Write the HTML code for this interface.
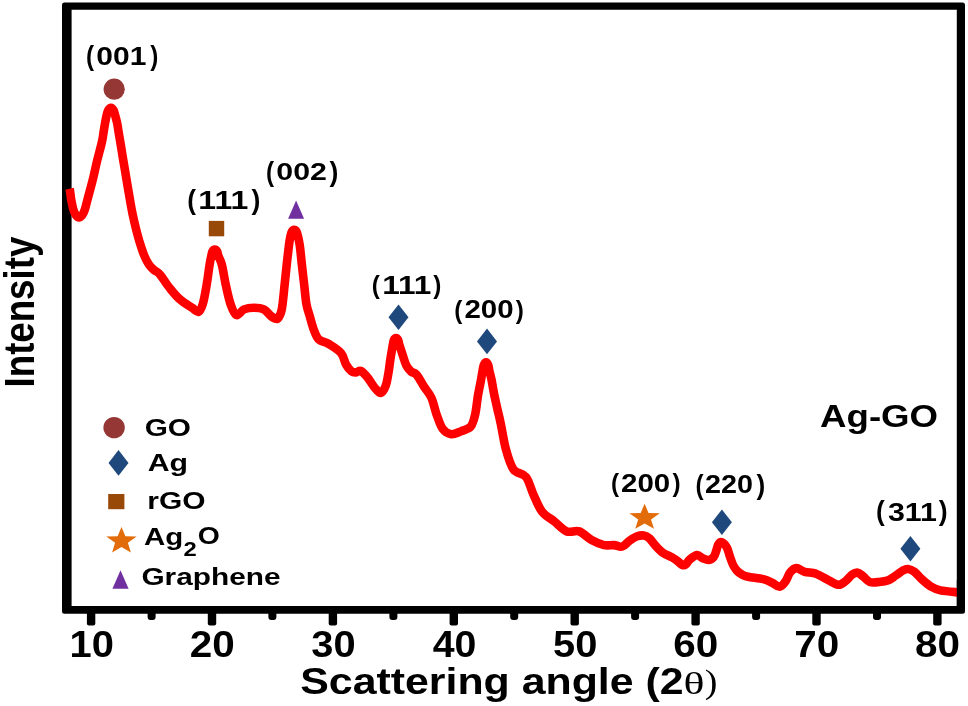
<!DOCTYPE html>
<html><head><meta charset="utf-8"><title>XRD Ag-GO</title>
<style>
html,body{margin:0;padding:0;background:#fff;}
body{width:968px;height:706px;overflow:hidden;}
svg{display:block;}
svg text{font-family:"Liberation Sans",Arial,Helvetica,sans-serif;font-weight:bold;fill:#000;}
</style></head><body>
<svg width="968" height="706" viewBox="0 0 968 706">
<defs><filter id="soft" color-interpolation-filters="sRGB" x="0" y="0" width="968" height="706" filterUnits="userSpaceOnUse"><feGaussianBlur stdDeviation="0.6"/></filter></defs>
<g filter="url(#soft)">
<rect x="0" y="0" width="968" height="706" fill="#fff"/>
<path fill="#000" fill-rule="evenodd" d="M64.5,2.6 H962.5 Q965,2.6 965,5.1 V611.3 Q965,613.8 962.5,613.8 H64.5 Q62,613.8 62,611.3 V5.1 Q62,2.6 64.5,2.6 Z M71.6,9.8 V606 H956.8 V9.8 Z"/>
<path d="M69.6,188.8 C69.7,189.2 69.8,189.3 70.1,191.3 C70.4,193.3 70.8,197.6 71.4,200.7 C72.0,203.8 72.7,207.6 73.5,210.0 C74.3,212.4 75.1,214.1 76.0,215.3 C76.9,216.6 78.0,217.5 79.0,217.5 C80.0,217.5 81.0,216.8 82.0,215.5 C83.0,214.2 83.8,212.5 84.7,210.0 C85.6,207.5 86.4,203.8 87.2,200.7 C88.0,197.6 88.7,195.1 89.7,191.3 C90.7,187.5 91.9,183.2 93.2,178.0 C94.5,172.8 95.8,166.0 97.3,160.0 C98.8,154.0 100.9,146.7 101.9,142.0 C103.0,137.3 103.1,135.2 103.6,132.0 C104.1,128.8 104.6,125.7 105.1,122.9 C105.6,120.2 106.1,117.6 106.6,115.5 C107.1,113.4 107.5,111.6 108.2,110.3 C108.9,109.0 110.1,107.7 111.0,107.7 C111.9,107.7 112.9,109.0 113.6,110.3 C114.3,111.6 114.6,113.4 115.2,115.5 C115.8,117.6 116.5,120.2 117.1,122.9 C117.7,125.7 118.1,128.8 118.6,132.0 C119.1,135.2 119.7,138.2 120.3,142.0 C120.9,145.8 121.7,150.7 122.4,155.0 C123.1,159.3 123.7,162.8 124.6,168.0 C125.5,173.2 126.7,180.7 127.6,186.0 C128.5,191.3 129.2,195.4 130.0,200.0 C130.8,204.6 131.5,208.9 132.5,213.6 C133.5,218.3 134.6,223.3 135.8,228.0 C137.0,232.7 138.2,237.5 139.6,242.0 C141.0,246.5 142.5,251.3 144.0,255.0 C145.5,258.7 147.1,261.8 148.8,264.3 C150.5,266.8 152.2,268.4 154.0,270.0 C155.8,271.6 157.1,271.2 159.7,274.2 C162.3,277.2 166.3,283.8 169.6,287.9 C172.9,292.0 175.8,295.7 179.5,299.0 C183.2,302.3 188.7,305.6 191.9,307.7 C195.1,309.8 196.7,312.4 198.5,311.8 C200.3,311.2 201.4,308.6 202.8,304.0 C204.2,299.4 205.7,290.5 206.8,284.0 C207.9,277.5 208.8,269.6 209.6,264.9 C210.3,260.2 210.8,258.3 211.3,256.0 C211.8,253.7 211.9,252.4 212.5,251.3 C213.1,250.2 214.0,249.5 214.8,249.5 C215.6,249.5 216.5,250.2 217.1,251.3 C217.7,252.4 217.6,253.7 218.4,256.0 C219.2,258.3 220.7,260.2 221.9,264.9 C223.1,269.6 224.2,277.5 225.6,284.0 C227.0,290.5 228.7,298.8 230.5,304.0 C232.3,309.2 234.2,314.2 236.5,315.1 C238.8,316.0 241.1,310.6 244.0,309.4 C246.9,308.2 250.6,307.7 253.9,307.7 C257.2,307.7 260.9,307.9 263.8,309.4 C266.7,310.8 269.0,314.8 271.3,316.4 C273.6,318.0 275.8,319.5 277.4,318.9 C279.0,318.2 280.1,315.0 281.0,312.5 C281.9,310.0 282.0,308.8 282.6,304.0 C283.2,299.2 284.0,290.7 284.7,284.0 C285.4,277.3 286.1,270.5 286.8,264.0 C287.5,257.5 288.4,249.6 289.0,244.9 C289.6,240.2 290.0,238.2 290.5,236.0 C291.0,233.8 291.2,232.6 291.8,231.6 C292.4,230.6 293.4,229.9 294.2,229.9 C295.0,229.9 296.0,230.6 296.6,231.6 C297.2,232.6 297.4,233.8 297.9,236.0 C298.4,238.2 299.0,240.2 299.7,244.9 C300.4,249.6 301.1,257.5 301.8,264.0 C302.5,270.5 303.3,277.3 304.1,284.0 C304.9,290.7 305.5,298.7 306.4,304.0 C307.3,309.3 308.5,311.8 309.7,316.0 C310.9,320.2 312.1,325.3 313.6,329.2 C315.1,333.1 316.3,336.9 318.8,339.4 C321.3,341.9 325.1,341.7 328.8,344.0 C332.5,346.3 338.1,349.6 341.0,353.0 C343.9,356.4 344.2,361.4 346.0,364.5 C347.8,367.6 349.8,370.0 351.5,371.3 C353.2,372.6 354.4,372.4 356.0,372.4 C357.6,372.3 359.0,370.1 361.0,371.0 C363.0,371.9 365.6,375.1 367.8,377.8 C370.1,380.6 372.3,385.0 374.5,387.5 C376.7,390.0 378.9,393.3 380.8,393.0 C382.7,392.7 384.5,389.0 385.8,385.5 C387.1,382.0 387.9,375.9 388.6,372.0 C389.3,368.1 389.5,365.2 390.0,362.0 C390.5,358.8 390.9,355.7 391.4,352.9 C391.9,350.1 392.4,347.1 392.8,345.0 C393.2,342.9 393.4,341.2 393.9,340.0 C394.4,338.8 395.3,338.0 396.0,338.0 C396.7,338.0 397.5,338.8 398.1,340.0 C398.7,341.2 398.8,342.9 399.4,345.0 C400.0,347.1 400.9,349.5 402.0,352.9 C403.1,356.3 404.8,362.3 406.3,365.4 C407.8,368.5 409.3,369.9 411.0,371.5 C412.7,373.1 414.5,372.3 416.7,374.8 C418.9,377.3 421.6,382.8 424.0,386.6 C426.4,390.4 429.3,393.2 431.4,397.8 C433.5,402.4 434.5,408.7 436.4,413.9 C438.3,419.1 440.1,425.4 442.6,428.8 C445.1,432.2 448.1,433.8 451.2,434.2 C454.3,434.6 458.0,432.4 461.2,431.2 C464.4,430.0 468.4,428.8 470.5,426.8 C472.6,424.8 473.1,421.8 474.0,419.0 C474.9,416.2 475.4,413.8 476.0,410.0 C476.6,406.2 477.3,399.7 477.9,396.0 C478.5,392.3 478.9,390.7 479.4,388.0 C479.9,385.3 480.5,382.8 481.0,380.0 C481.5,377.2 482.0,373.5 482.5,371.0 C483.0,368.5 483.2,366.4 483.8,365.0 C484.4,363.6 485.3,362.4 486.0,362.4 C486.7,362.4 487.6,363.6 488.2,365.0 C488.8,366.4 488.8,368.5 489.4,371.0 C490.0,373.5 491.0,377.2 491.6,380.0 C492.2,382.8 492.5,385.3 493.0,388.0 C493.5,390.7 493.7,392.3 494.5,396.0 C495.3,399.7 496.6,405.4 497.6,410.0 C498.7,414.6 499.4,417.2 500.8,423.8 C502.2,430.4 503.9,442.0 506.0,449.6 C508.1,457.2 510.2,464.8 513.5,469.4 C516.8,473.9 522.6,472.8 525.9,476.9 C529.2,481.0 530.6,488.4 533.3,494.2 C536.0,500.0 538.5,507.1 542.0,511.6 C545.5,516.1 550.3,518.2 554.4,521.5 C558.5,524.8 562.7,529.8 566.8,531.4 C570.9,533.0 575.1,529.9 579.2,531.4 C583.3,532.9 587.5,537.8 591.6,540.1 C595.7,542.4 600.3,544.3 604.0,545.1 C607.7,545.9 610.9,544.9 613.9,545.1 C616.9,545.3 619.6,547.3 622.3,546.5 C624.9,545.7 627.3,542.2 629.8,540.5 C632.3,538.8 634.9,537.1 637.2,536.3 C639.5,535.5 641.7,535.2 643.7,535.5 C645.7,535.8 647.3,536.5 649.3,538.2 C651.3,540.0 653.5,543.5 655.8,546.0 C658.1,548.5 660.4,551.1 663.2,553.0 C666.0,554.9 669.9,556.1 672.5,557.6 C675.1,559.1 677.0,560.8 678.6,562.0 C680.2,563.2 680.8,564.5 682.0,564.9 C683.2,565.3 684.4,565.4 685.6,564.5 C686.9,563.6 687.6,561.4 689.5,559.8 C691.4,558.2 694.8,555.4 697.0,555.1 C699.2,554.8 700.6,557.4 702.6,558.2 C704.6,559.0 706.9,560.2 708.8,560.0 C710.7,559.8 712.5,558.4 713.8,556.9 C715.0,555.4 715.6,552.8 716.3,550.7 C717.0,548.6 717.3,545.9 718.2,544.5 C719.1,543.1 720.5,541.8 721.9,542.3 C723.3,542.8 725.5,545.2 726.9,547.6 C728.2,550.0 729.0,554.0 730.0,556.9 C731.0,559.8 732.0,562.7 733.1,565.0 C734.2,567.3 735.5,569.0 736.9,570.6 C738.3,572.2 739.9,573.4 741.8,574.4 C743.6,575.4 744.4,576.0 748.0,576.8 C751.6,577.6 759.3,578.2 763.3,579.2 C767.3,580.2 769.5,581.5 772.2,582.8 C774.9,584.0 777.5,587.0 779.7,586.7 C781.9,586.5 783.9,583.7 785.6,581.3 C787.3,578.9 788.3,574.6 790.1,572.4 C791.9,570.2 794.0,568.2 796.4,568.1 C798.8,568.0 801.5,570.9 804.7,571.8 C808.0,572.7 812.2,572.5 815.9,573.7 C819.6,575.0 823.3,577.4 827.0,579.3 C830.7,581.1 835.1,584.5 838.2,584.8 C841.3,585.1 843.3,582.8 845.6,581.1 C847.9,579.4 850.2,576.0 852.2,574.6 C854.2,573.2 855.9,572.4 857.7,572.7 C859.6,573.0 861.3,575.0 863.3,576.5 C865.3,578.0 867.2,581.1 869.8,582.0 C872.4,582.9 876.0,582.3 879.1,582.0 C882.2,581.7 885.6,581.3 888.4,580.2 C891.2,579.1 893.3,577.1 895.8,575.5 C898.3,573.9 901.3,571.4 903.3,570.3 C905.3,569.2 906.0,568.8 907.9,569.0 C909.8,569.2 912.1,570.1 914.4,571.8 C916.7,573.5 919.1,576.8 921.9,579.3 C924.7,581.8 928.1,584.9 931.2,586.7 C934.3,588.6 936.0,589.5 940.5,590.4 C945.0,591.3 955.1,592.1 958.0,592.4" fill="none" stroke="#FF0000" stroke-width="8.6" stroke-linejoin="round" stroke-linecap="butt"/>
<rect x="956.8" y="580" width="8.2" height="26" fill="#000"/>
<path d="M86.9,612 h8.4 v11.5 q0,2 -2,2 h-4.4 q-2,0 -2,-2 z" fill="#000"/>
<path d="M147.6,612 h8 v5 q0,3 -3,3 h-2 q-3,0 -3,-3 z" fill="#000"/>
<path d="M207.8,612 h8.4 v11.5 q0,2 -2,2 h-4.4 q-2,0 -2,-2 z" fill="#000"/>
<path d="M268.4,612 h8 v5 q0,3 -3,3 h-2 q-3,0 -3,-3 z" fill="#000"/>
<path d="M328.7,612 h8.4 v11.5 q0,2 -2,2 h-4.4 q-2,0 -2,-2 z" fill="#000"/>
<path d="M389.4,612 h8 v5 q0,3 -3,3 h-2 q-3,0 -3,-3 z" fill="#000"/>
<path d="M449.6,612 h8.4 v11.5 q0,2 -2,2 h-4.4 q-2,0 -2,-2 z" fill="#000"/>
<path d="M510.2,612 h8 v5 q0,3 -3,3 h-2 q-3,0 -3,-3 z" fill="#000"/>
<path d="M570.5,612 h8.4 v11.5 q0,2 -2,2 h-4.4 q-2,0 -2,-2 z" fill="#000"/>
<path d="M631.1,612 h8 v5 q0,3 -3,3 h-2 q-3,0 -3,-3 z" fill="#000"/>
<path d="M691.4,612 h8.4 v11.5 q0,2 -2,2 h-4.4 q-2,0 -2,-2 z" fill="#000"/>
<path d="M752.1,612 h8 v5 q0,3 -3,3 h-2 q-3,0 -3,-3 z" fill="#000"/>
<path d="M812.3,612 h8.4 v11.5 q0,2 -2,2 h-4.4 q-2,0 -2,-2 z" fill="#000"/>
<path d="M873.0,612 h8 v5 q0,3 -3,3 h-2 q-3,0 -3,-3 z" fill="#000"/>
<path d="M933.2,612 h8.4 v11.5 q0,2 -2,2 h-4.4 q-2,0 -2,-2 z" fill="#000"/>
<circle cx="114.2" cy="89.2" r="10.6" fill="#953735"/>
<rect x="208.8" y="220.9" width="15.4" height="15.4" fill="#984807"/>
<polygon points="296.1,200.5 304.1,218.7 288.1,218.7" fill="#7030A0"/>
<polygon points="398.5,304.5 408.5,317.3 398.5,330.1 388.5,317.3" fill="#1F497D"/>
<polygon points="487.0,328.6 497.0,341.4 487.0,354.2 477.0,341.4" fill="#1F497D"/>
<polygon points="644.6,503.7 648.5,512.9 659.8,513.3 651.0,519.4 654.0,528.8 644.6,523.4 635.2,528.8 638.2,519.4 629.4,513.3 640.7,512.9" fill="#E36C0A"/>
<polygon points="721.9,509.5 731.9,522.3 721.9,535.1 711.9,522.3" fill="#1F497D"/>
<polygon points="910.4,535.9 920.4,548.7 910.4,561.5 900.4,548.7" fill="#1F497D"/>
<circle cx="114.1" cy="427.6" r="10.7" fill="#953735"/>
<polygon points="118.5,450.1 128.5,462.9 118.5,475.7 108.5,462.9" fill="#1F497D"/>
<rect x="108.2" y="494" width="16.2" height="15.2" fill="#984807"/>
<polygon points="121.5,526.9 125.4,536.2 136.7,536.6 127.9,542.8 130.9,552.4 121.5,546.9 112.1,552.4 115.1,542.8 106.3,536.6 117.6,536.2" fill="#E36C0A"/>
<polygon points="120.5,570.2 128.6,588.7 112.4,588.7" fill="#7030A0"/>
<text transform="translate(69.55,656.97) scale(0.9982,0.9287)" font-size="40">10</text>
<text transform="translate(189.69,656.97) scale(1.0115,0.9287)" font-size="40">20</text>
<text transform="translate(311.23,656.97) scale(0.9965,0.9287)" font-size="40">30</text>
<text transform="translate(432.75,656.97) scale(0.9820,0.9287)" font-size="40">40</text>
<text transform="translate(553.03,656.97) scale(0.9965,0.9287)" font-size="40">50</text>
<text transform="translate(673.29,656.97) scale(1.0115,0.9287)" font-size="40">60</text>
<text transform="translate(794.19,656.97) scale(1.0115,0.9287)" font-size="40">70</text>
<text transform="translate(915.09,656.97) scale(1.0115,0.9287)" font-size="40">80</text>
<text transform="translate(86.11,65.03) scale(0.6063,0.7108)" font-size="40">(</text>
<text transform="translate(96.31,64.65) scale(0.7505,0.6400)" font-size="40">001</text>
<text transform="translate(150.25,65.03) scale(0.6063,0.7108)" font-size="40">)</text>
<text transform="translate(187.32,209.43) scale(0.6568,0.7108)" font-size="40">(</text>
<text transform="translate(198.34,209.45) scale(0.8023,0.6542)" font-size="40">111</text>
<text transform="translate(251.45,209.43) scale(0.6653,0.7108)" font-size="40">)</text>
<text transform="translate(266.11,180.80) scale(0.6063,0.7030)" font-size="40">(</text>
<text transform="translate(276.30,180.36) scale(0.7582,0.6191)" font-size="40">002</text>
<text transform="translate(329.55,180.80) scale(0.6653,0.7030)" font-size="40">)</text>
<text transform="translate(371.81,294.24) scale(0.6063,0.6636)" font-size="40">(</text>
<text transform="translate(382.17,293.85) scale(0.7904,0.6329)" font-size="40">111</text>
<text transform="translate(433.35,294.24) scale(0.6063,0.6636)" font-size="40">)</text>
<text transform="translate(454.31,318.64) scale(0.6063,0.6636)" font-size="40">(</text>
<text transform="translate(464.43,318.45) scale(0.7375,0.6435)" font-size="40">200</text>
<text transform="translate(515.85,318.64) scale(0.6063,0.6636)" font-size="40">)</text>
<text transform="translate(610.91,491.60) scale(0.6063,0.6452)" font-size="40">(</text>
<text transform="translate(621.03,491.95) scale(0.7375,0.6435)" font-size="40">200</text>
<text transform="translate(672.45,491.60) scale(0.6063,0.6452)" font-size="40">)</text>
<text transform="translate(695.51,493.51) scale(0.6063,0.6793)" font-size="40">(</text>
<text transform="translate(705.05,493.45) scale(0.7187,0.6400)" font-size="40">220</text>
<text transform="translate(756.45,493.51) scale(0.6568,0.6793)" font-size="40">)</text>
<text transform="translate(875.92,520.47) scale(0.6568,0.6951)" font-size="40">(</text>
<text transform="translate(887.88,520.53) scale(0.7598,0.6643)" font-size="40">311</text>
<text transform="translate(938.75,520.47) scale(0.6653,0.6951)" font-size="40">)</text>
<text transform="translate(144.72,436.07) scale(0.7434,0.6017)" font-size="40">GO</text>
<text transform="translate(147.68,470.98) scale(0.7559,0.5912)" font-size="40">Ag</text>
<text transform="translate(147.28,509.48) scale(0.7482,0.5948)" font-size="40">rGO</text>
<text transform="translate(143.89,544.68) scale(0.7360,0.5912)" font-size="40">Ag</text>
<text transform="translate(183.51,555.75) scale(0.5950,0.4978)" font-size="40">2</text>
<text transform="translate(197.86,544.27) scale(0.7096,0.6017)" font-size="40">O</text>
<text transform="translate(141.42,585.05) scale(0.7454,0.6059)" font-size="40">Graphene</text>
<text transform="translate(820.08,426.53) scale(0.9156,0.7675)" font-size="40">Ag-GO</text>
<text transform="translate(300.28,693.58) scale(1.0717,0.9113)" font-size="40">Scattering angle (2</text>
<text transform="translate(683.60,693.65) scale(1.0944,0.8035)" font-size="40" style="font-family:'Liberation Serif',serif;font-weight:normal">θ</text>
<text transform="translate(704.86,693.40) scale(0.9506,0.8624)" font-size="40" style="font-family:'Liberation Serif',serif;font-weight:normal">)</text>
<text transform="translate(34.25,387.44) rotate(-90) scale(0.9166,1.0418)" font-size="40">Intensity</text>
</g>
</svg>
</body></html>
